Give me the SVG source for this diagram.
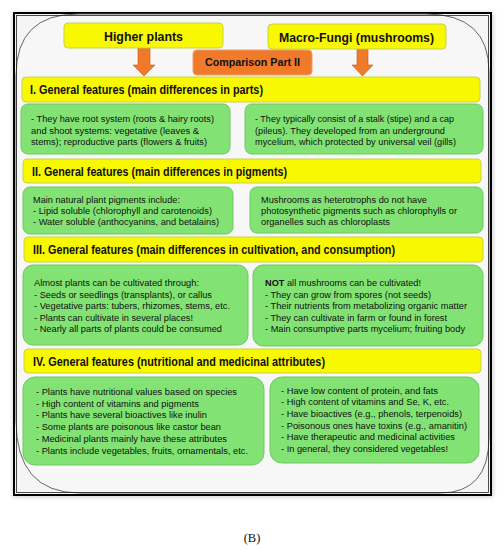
<svg xmlns="http://www.w3.org/2000/svg" width="504" height="550" viewBox="0 0 504 550">
<defs>
<style>
.hdr{fill:#f8f800;stroke:#c9d24a;stroke-width:1}
.sec{fill:#f8f800;stroke:#c9d24a;stroke-width:1}
.grn{fill:#82e374;stroke:#6cc95f;stroke-width:1}
.org{fill:#f07a2a;stroke:#e8a070;stroke-width:1}
.t{font-family:"Liberation Sans",Arial,sans-serif;fill:#111}
.b14{font-size:13.5px;font-weight:bold}
.b13{font-size:12px;font-weight:bold}
.b12{font-size:11px;font-weight:bold}
.s{font-size:9.6px}
</style>
<filter id="sh" x="-5%" y="-5%" width="110%" height="110%"><feGaussianBlur stdDeviation="2"/></filter>
</defs>
<rect width="504" height="550" fill="#ffffff"/>
<g id="frame">
<rect x="13" y="13" width="480" height="484" fill="#999" opacity="0.5" filter="url(#sh)"/>
<rect x="14" y="13" width="477" height="482" fill="#f5f5f5" stroke="#000" stroke-width="2"/>
<path d="M78,14 H426 Q489,14 489,72 V437 Q489,493 440,493 H80 Q16,493 16,420 V76 Q16,14 78,14 Z" fill="#f7f7f7" stroke="#555" stroke-width="0.9"/>
<rect x="16.5" y="15.5" width="472" height="477" fill="none" stroke="#222" stroke-width="0.8"/>
</g>
<g id="connectors">
<polygon points="138,48 150,48 150,65 155,65 144,76 133,65 138,65" fill="#f07a2a" stroke="#c85a1a" stroke-width="0.6"/>
<polygon points="357,49 368,49 368,65 373,65 362.5,76 352,65 357,65" fill="#f07a2a" stroke="#c85a1a" stroke-width="0.6"/>
</g>
<g id="higher-plants">
<rect class="hdr" x="64" y="23" width="159" height="25" rx="4"/>
<text class="t b14" x="104" y="40.5" textLength="79" lengthAdjust="spacingAndGlyphs">Higher plants</text>
</g>
<g id="macro-fungi">
<rect class="hdr" x="268" y="24" width="178" height="25" rx="4"/>
<text class="t b14" x="279" y="41.5" textLength="155" lengthAdjust="spacingAndGlyphs">Macro-Fungi (mushrooms)</text>
</g>
<g id="comparison">
<rect class="org" x="193" y="50" width="119" height="25" rx="4"/>
<text class="t b12" x="205" y="66" textLength="95" lengthAdjust="spacingAndGlyphs">Comparison Part II</text>
</g>
<g id="sec1">
<rect class="sec" x="22" y="77" width="458" height="25" rx="4"/>
<text class="t b13" x="30" y="94" textLength="233" lengthAdjust="spacingAndGlyphs">I. General features (main differences in parts)</text>
</g>
<g id="sec1-left">
<rect class="grn" x="21" y="104" width="209" height="50" rx="7"/>
<text class="t s" x="31" y="122" textLength="183" lengthAdjust="spacingAndGlyphs">- They have root system (roots &amp; hairy roots)</text>
<text class="t s" x="31" y="133.5" textLength="168" lengthAdjust="spacingAndGlyphs">and shoot systems: vegetative (leaves &amp;</text>
<text class="t s" x="31" y="145" textLength="176" lengthAdjust="spacingAndGlyphs">stems); reproductive parts (flowers &amp; fruits)</text>
</g>
<g id="sec1-right">
<rect class="grn" x="245" y="104" width="238" height="50" rx="7"/>
<text class="t s" x="255" y="122" textLength="199" lengthAdjust="spacingAndGlyphs">- They typically consist of a stalk (stipe) and a cap</text>
<text class="t s" x="255" y="133.5" textLength="190" lengthAdjust="spacingAndGlyphs">(pileus). They developed from an underground</text>
<text class="t s" x="255" y="145" textLength="201" lengthAdjust="spacingAndGlyphs">mycelium, which protected by universal veil (gills)</text>
</g>
<g id="sec2">
<rect class="sec" x="23" y="159" width="458" height="24" rx="4"/>
<text class="t b13" x="32" y="175.5" textLength="255" lengthAdjust="spacingAndGlyphs">II. General features (main differences in pigments)</text>
</g>
<g id="sec2-left">
<rect class="grn" x="23" y="187" width="210" height="47" rx="7"/>
<text class="t s" x="33" y="203" textLength="147" lengthAdjust="spacingAndGlyphs">Main natural plant pigments include:</text>
<text class="t s" x="33" y="214" textLength="179" lengthAdjust="spacingAndGlyphs">- Lipid soluble (chlorophyll and carotenoids)</text>
<text class="t s" x="33" y="225" textLength="186" lengthAdjust="spacingAndGlyphs">- Water soluble (anthocyanins, and betalains)</text>
</g>
<g id="sec2-right">
<rect class="grn" x="250" y="187" width="233" height="46" rx="7"/>
<text class="t s" x="261" y="203" textLength="166" lengthAdjust="spacingAndGlyphs">Mushrooms as heterotrophs do not have</text>
<text class="t s" x="261" y="214" textLength="196" lengthAdjust="spacingAndGlyphs">photosynthetic pigments such as chlorophylls or</text>
<text class="t s" x="261" y="225" textLength="129" lengthAdjust="spacingAndGlyphs">organelles such as chloroplasts</text>
</g>
<g id="sec3">
<rect class="sec" x="24" y="237" width="459" height="25" rx="4"/>
<text class="t b13" x="33" y="254" textLength="362" lengthAdjust="spacingAndGlyphs">III. General features (main differences in cultivation, and consumption)</text>
</g>
<g id="sec3-left">
<rect class="grn" x="23" y="265" width="225" height="80" rx="10"/>
<text class="t s" x="34" y="286" textLength="165" lengthAdjust="spacingAndGlyphs">Almost plants can be cultivated through:</text>
<text class="t s" x="34" y="297.5" textLength="178" lengthAdjust="spacingAndGlyphs">- Seeds or seedlings (transplants), or callus</text>
<text class="t s" x="34" y="309" textLength="196" lengthAdjust="spacingAndGlyphs">- Vegetative parts: tubers, rhizomes, stems, etc.</text>
<text class="t s" x="34" y="320.5" textLength="159" lengthAdjust="spacingAndGlyphs">- Plants can cultivate in several places!</text>
<text class="t s" x="34" y="332" textLength="188" lengthAdjust="spacingAndGlyphs">- Nearly all parts of plants could be consumed</text>
</g>
<g id="sec3-right">
<rect class="grn" x="253" y="265" width="230" height="81" rx="10"/>
<text class="t s" x="265" y="286" textLength="156" lengthAdjust="spacingAndGlyphs"><tspan font-weight="bold">NOT</tspan> all mushrooms can be cultivated!</text>
<text class="t s" x="265" y="297.5" textLength="166" lengthAdjust="spacingAndGlyphs">- They can grow from spores (not seeds)</text>
<text class="t s" x="265" y="309" textLength="202" lengthAdjust="spacingAndGlyphs">- Their nutrients from metabolizing organic matter</text>
<text class="t s" x="265" y="320.5" textLength="182" lengthAdjust="spacingAndGlyphs">- They can cultivate in farm or found in forest</text>
<text class="t s" x="265" y="332" textLength="200" lengthAdjust="spacingAndGlyphs">- Main consumptive parts mycelium; fruiting body</text>
</g>
<g id="sec4">
<rect class="sec" x="24" y="349" width="457" height="24" rx="4"/>
<text class="t b13" x="33" y="365.5" textLength="292" lengthAdjust="spacingAndGlyphs">IV. General features (nutritional and medicinal attributes)</text>
</g>
<g id="sec4-left">
<rect class="grn" x="23" y="377" width="241" height="88" rx="12"/>
<text class="t s" x="36" y="395" textLength="201" lengthAdjust="spacingAndGlyphs">- Plants have nutritional values based on species</text>
<text class="t s" x="36" y="406.7" textLength="163" lengthAdjust="spacingAndGlyphs">- High content of vitamins and pigments</text>
<text class="t s" x="36" y="418.4" textLength="171" lengthAdjust="spacingAndGlyphs">- Plants have several bioactives like inulin</text>
<text class="t s" x="36" y="430.1" textLength="185" lengthAdjust="spacingAndGlyphs">- Some plants are poisonous like castor bean</text>
<text class="t s" x="36" y="441.8" textLength="191" lengthAdjust="spacingAndGlyphs">- Medicinal plants mainly have these attributes</text>
<text class="t s" x="36" y="453.5" textLength="212" lengthAdjust="spacingAndGlyphs">- Plants include vegetables, fruits, ornamentals, etc.</text>
</g>
<g id="sec4-right">
<rect class="grn" x="270" y="377" width="209" height="86" rx="12"/>
<text class="t s" x="281" y="393.5" textLength="157" lengthAdjust="spacingAndGlyphs">- Have low content of protein, and fats</text>
<text class="t s" x="281" y="405.2" textLength="168" lengthAdjust="spacingAndGlyphs">- High content of vitamins and Se, K, etc.</text>
<text class="t s" x="281" y="416.9" textLength="181" lengthAdjust="spacingAndGlyphs">- Have bioactives (e.g., phenols, terpenoids)</text>
<text class="t s" x="281" y="428.6" textLength="186" lengthAdjust="spacingAndGlyphs">- Poisonous ones have toxins (e.g., amanitin)</text>
<text class="t s" x="281" y="440.3" textLength="174" lengthAdjust="spacingAndGlyphs">- Have therapeutic and medicinal activities</text>
<text class="t s" x="281" y="452" textLength="167" lengthAdjust="spacingAndGlyphs">- In general, they considered vegetables!</text>
</g>
<text x="252" y="542" text-anchor="middle" font-family="'Liberation Serif','Times New Roman',serif" font-size="12.5" fill="#111">(B)</text>
</svg>
